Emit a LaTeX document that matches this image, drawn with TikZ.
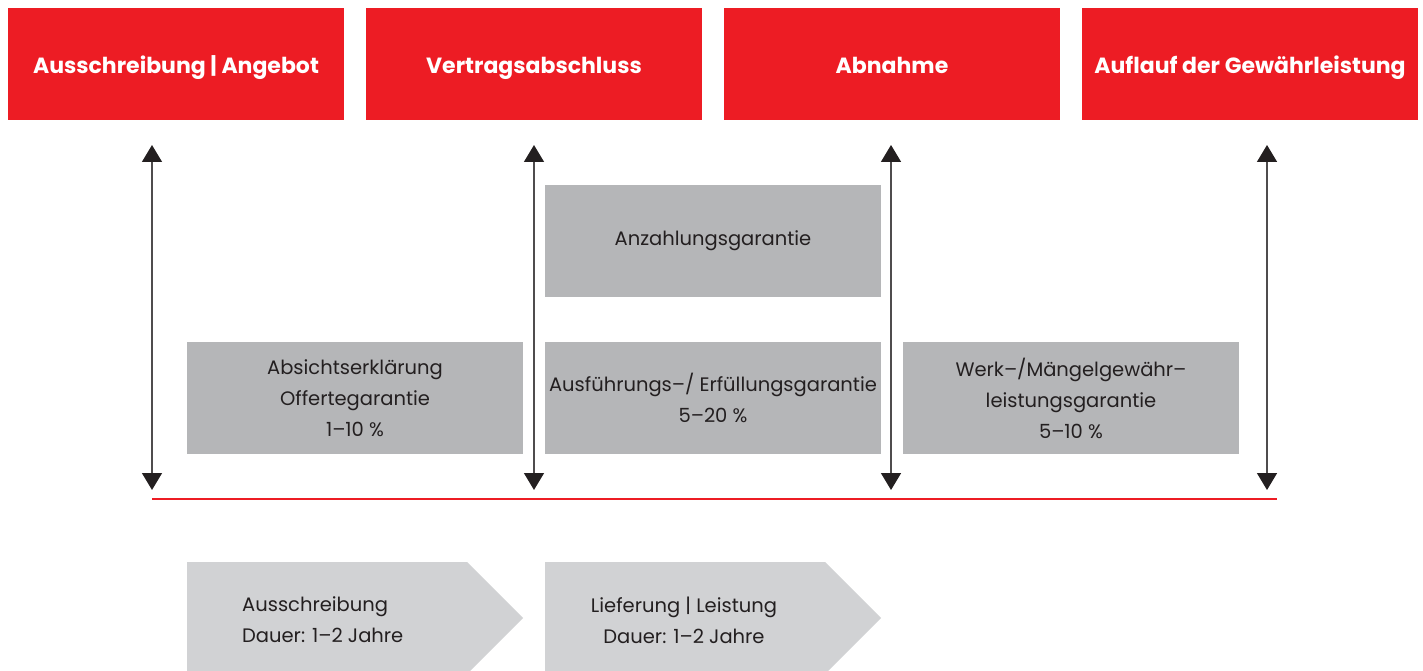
\documentclass[tikz,border=0pt]{standalone}
\usepackage{fontspec}
\setmainfont{Poppins}
\usetikzlibrary{arrows.meta,positioning}
\definecolor{hdred}{HTML}{ED1C24}
\definecolor{boxgray}{HTML}{B5B6B8}
\definecolor{phasegray}{HTML}{D1D2D4}
\definecolor{inkgray}{HTML}{231F20}
\begin{document}
\begin{tikzpicture}[x=1pt, y=-1pt,
  header/.style={fill=hdred, text=white, minimum width=336pt, minimum height=112pt,
    inner sep=0pt, text height=19pt, text depth=0pt, font=\fontsize{22}{26}\selectfont\bfseries},
  garantie/.style={fill=boxgray, text=inkgray, minimum width=336pt, minimum height=112pt,
    inner sep=0pt, align=center, font=\fontsize{19.5}{31}\selectfont},
  phasetext/.style={text=inkgray, inner sep=0pt, font=\fontsize{19.5}{31}\selectfont},
  span/.style={draw=inkgray!80, line width=1.5pt,
    {Triangle[width=20pt,length=17pt,color=inkgray]}-{Triangle[width=20pt,length=17pt,color=inkgray]}}]
  \useasboundingbox (0,0) rectangle (1423,671);
  % milestones
  \node[header] (tender) at (176,64) {Ausschreibung | Angebot};
  \node[header] (contract) at (534,64) {Vertragsabschluss};
  \node[header] (accept) at (892,64) {Abnahme};
  \node[header] (expiry) at (1250,64) {Auflauf der Gewährleistung};
  % time line
  \coordinate (lineL) at (152,499);
  \coordinate (lineR) at (1277,499);
  \draw[hdred, line width=2pt] (lineL) -- (lineR);
  \foreach \n/\x in {a/152, b/534, c/891, d/1267} {
    \coordinate (\n top) at (\x,145);
    \coordinate (\n bot) at (\x,490);
    \draw[span] (\n top) -- (\n bot);
  }
  % guarantees
  \node[garantie] (advance) at (713,241) {Anzahlungsgarantie};
  \node[garantie] (bid) at (355,398) {Absichtserklärung\\Offertegarantie\\1–10 \%};
  \node[garantie] (perform) at (713,398) {Ausführungs–/ Erfüllungsgarantie\\5–20 \%};
  \node[garantie] (warranty) at (1071,398) {Werk–/Mängelgewähr–\\leistungsgarantie\\5–10 \%};
  % phases
  \fill[phasegray] (187,562) -- (467,562) -- (523,618) -- (467,674) -- (187,674) -- cycle;
  \fill[phasegray] (545,562) -- (825,562) -- (881,618) -- (825,674) -- (545,674) -- cycle;
  \node[phasetext, align=left, anchor=west] (tenderphase) at (242,620) {Ausschreibung\\Dauer: 1–2 Jahre};
  \node[phasetext, align=center] (delivery) at (684,620) {Lieferung | Leistung\\Dauer: 1–2 Jahre};
\end{tikzpicture}
\end{document}
